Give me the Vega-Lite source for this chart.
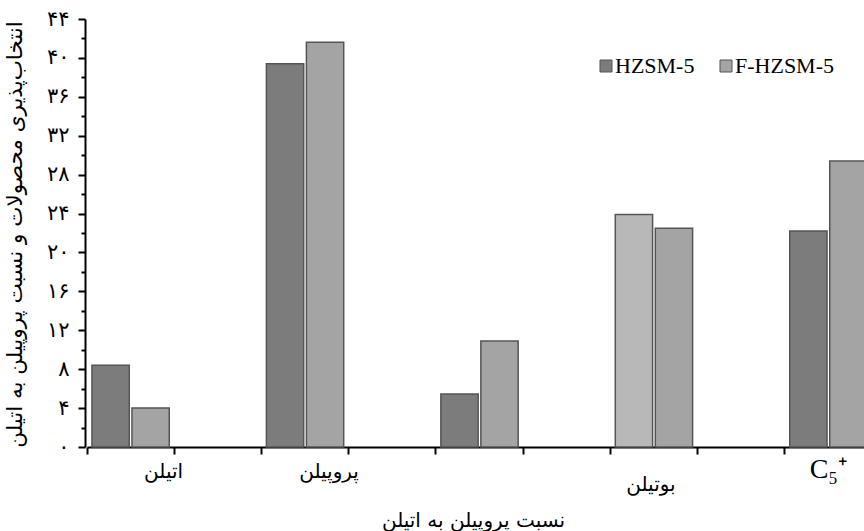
{
  "$schema": "https://vega.github.io/schema/vega-lite/v6.json",
  "width": 779,
  "height": 428,
  "autosize": {"type": "none"},
  "padding": {"left": 85, "top": 19, "right": 0, "bottom": 84},
  "background": "white",
  "config": {"view": {"stroke": null}},
  "data": {
    "values": [
      {"product": "اتیلن", "series": "HZSM-5", "value": 8.4},
      {"product": "اتیلن", "series": "F-HZSM-5", "value": 4.0},
      {"product": "پروپیلن", "series": "HZSM-5", "value": 39.4},
      {"product": "پروپیلن", "series": "F-HZSM-5", "value": 41.6},
      {"product": "نسبت پروپیلن به اتیلن", "series": "HZSM-5", "value": 5.45},
      {"product": "نسبت پروپیلن به اتیلن", "series": "F-HZSM-5", "value": 10.9},
      {"product": "بوتیلن", "series": "HZSM-5", "value": 23.9},
      {"product": "بوتیلن", "series": "F-HZSM-5", "value": 22.5},
      {"product": "C₅⁺", "series": "HZSM-5", "value": 22.2},
      {"product": "C₅⁺", "series": "F-HZSM-5", "value": 29.4}
    ]
  },
  "layer": [
    {
      "mark": {"type": "bar", "stroke": "#555555", "strokeWidth": 1.5},
      "encoding": {
        "x": {
          "field": "product",
          "type": "nominal",
          "scale": {
            "domain": ["اتیلن", "s1", "پروپیلن", "s3", "نسبت پروپیلن به اتیلن", "s5", "بوتیلن", "s7", "C₅⁺"],
            "range": [2, 787],
            "paddingInner": 0,
            "paddingOuter": 0
          },
          "axis": {
            "bandPosition": 0,
            "title": null,
            "labelAngle": 0,
            "domainColor": "black",
            "domainWidth": 2,
            "tickColor": "black",
            "tickWidth": 2,
            "tickSize": 7,
            "labelColor": "black",
            "labelFont": {
              "condition": {"test": "datum.value === 'C₅⁺'", "value": "Liberation Serif"},
              "value": "DejaVu Sans"
            },
            "labelBaseline": "top",
            "labelAlign": "center",
            "labelOverlap": false,
            "labelBound": false,
            "labelLimit": 0,
            "labelExpr": "indexof(['s1','s3','s5','s7'], datum.value) >= 0 ? '' : datum.value",
            "labelOffset": {
              "condition": [
                {"test": "datum.value === 'اتیلن'", "value": 33},
                {"test": "datum.value === 'پروپیلن'", "value": 24},
                {"test": "datum.value === 'نسبت پروپیلن به اتیلن'", "value": -6},
                {"test": "datum.value === 'بوتیلن'", "value": -3}
              ],
              "value": 0
            },
            "labelPadding": {
              "condition": [
                {"test": "datum.value === 'بوتیلن'", "value": 20},
                {"test": "datum.value === 'نسبت پروپیلن به اتیلن'", "value": 56},
                {"test": "datum.value === 'C₅⁺'", "value": 1}
              ],
              "value": 7
            },
            "labelFontSize": {
              "condition": {"test": "datum.value === 'C₅⁺'", "value": 28},
              "value": 20
            }
          }
        },
        "xOffset": {
          "field": "series",
          "type": "nominal",
          "scale": {"domain": ["HZSM-5", "F-HZSM-5"], "paddingInner": 0.0675, "paddingOuter": 0.124}
        },
        "y": {
          "field": "value",
          "type": "quantitative",
          "scale": {"domain": [0, 44], "nice": false, "zero": true},
          "axis": {
            "orient": "left",
            "values": [0, 4, 8, 12, 16, 20, 24, 28, 32, 36, 40, 44],
            "grid": false,
            "domainColor": "black",
            "domainWidth": 2,
            "tickColor": "black",
            "tickWidth": 2,
            "tickSize": 7,
            "labelColor": "black",
            "labelFont": "DejaVu Sans",
            "labelFontSize": 21,
            "labelPadding": 9,
            "labelExpr": "datum.value < 10 ? substring('۰۱۲۳۴۵۶۷۸۹', datum.value, datum.value + 1) : substring('۰۱۲۳۴۵۶۷۸۹', floor(datum.value / 10), floor(datum.value / 10) + 1) + substring('۰۱۲۳۴۵۶۷۸۹', datum.value % 10, datum.value % 10 + 1)",
            "title": "انتخاب‌پذیری محصولات و نسبت پروپیلن به اتیلن",
            "titleFont": "DejaVu Sans",
            "titleFontSize": 21.5,
            "titleFontWeight": "normal",
            "titleColor": "black",
            "titleX": -70,
            "titleY": 215,
            "titleAngle": -90,
            "titleAlign": "center",
            "titleBaseline": "middle",
            "titleLimit": 0
          }
        },
        "fill": {
          "field": "series",
          "type": "nominal",
          "condition": {"test": "datum.product === 'بوتیلن' && datum.series === 'HZSM-5'", "value": "#b8b8b8"},
          "scale": {"domain": ["HZSM-5", "F-HZSM-5"], "range": ["#7c7c7c", "#a4a4a4"]},
          "legend": {
            "orient": "none",
            "legendX": 510,
            "legendY": 36,
            "direction": "horizontal",
            "title": null,
            "padding": 0,
            "labelFont": "Liberation Serif",
            "labelFontSize": 22,
            "labelColor": "black",
            "labelOffset": -2,
            "symbolType": "square",
            "symbolSize": 144,
            "symbolStrokeColor": "#555555",
            "symbolStrokeWidth": 1,
            "columnPadding": 20
          }
        }
      }
    },
    {
      "mark": {"type": "rule", "opacity": 0},
      "encoding": {
        "y": {
          "field": "value",
          "type": "quantitative",
          "scale": {"domain": [0, 44], "nice": false, "zero": true},
          "axis": {
            "orient": "left",
            "values": [2, 6, 10, 14, 18, 22, 26, 30, 34, 38, 42],
            "labels": false,
            "domain": false,
            "grid": false,
            "tickColor": "black",
            "tickWidth": 2,
            "tickSize": 4,
            "title": null
          }
        }
      }
    }
  ],
  "resolve": {"axis": {"y": "independent"}}
}
